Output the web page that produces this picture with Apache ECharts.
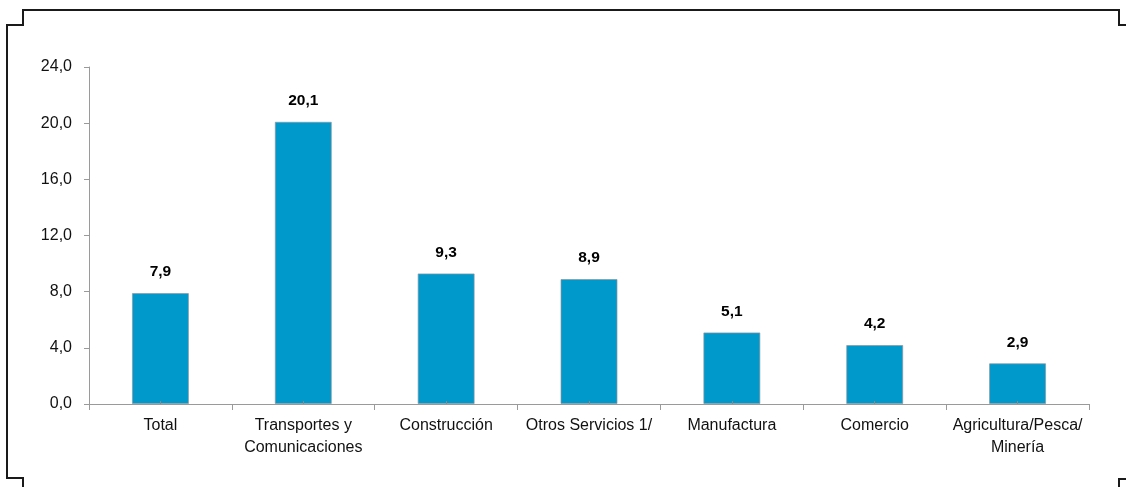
<!DOCTYPE html>
<html>
<head>
<meta charset="utf-8">
<script src="https://cdn.jsdelivr.net/npm/echarts@6/dist/echarts.min.js"></script>
<style>html,body{margin:0;padding:0;background:#fff}#c{width:1126px;height:487px}</style>
</head>
<body>
<div id="c"></div>
<script>
const categories = ['Total', 'Transportes y\nComunicaciones', 'Construcción', 'Otros Servicios 1/', 'Manufactura', 'Comercio', 'Agricultura/Pesca/\nMinería'];
const values = [7.9, 20.1, 9.3, 8.9, 5.1, 4.2, 2.9];
const yMin = 0, yMax = 24, yStep = 4;

const FONT = "'Liberation Sans', Arial, sans-serif";
const fmt = v => v.toFixed(1).replace('.', ',');

const chart = echarts.init(document.getElementById('c'), null, {renderer: 'canvas'});
const frameStyle = {stroke: '#1a1a1a', lineWidth: 2, fill: null};
chart.setOption({
  animation: false,
  grid: {left: 89, right: 37, top: 67, bottom: 83},
  graphic: [
    {type: 'polyline', shape: {points: [[1126, 25], [1119, 25], [1119, 10], [23, 10], [23, 25], [7, 25], [7, 478], [23, 478], [23, 487]]}, style: frameStyle, silent: true},
    {type: 'polyline', shape: {points: [[1119, 487], [1119, 479], [1126, 479]]}, style: frameStyle, silent: true}
  ],
  xAxis: [{
    type: 'category',
    data: categories,
    axisLine: {lineStyle: {color: '#9a9a9a', width: 1}},
    axisTick: {show: true, length: 6, lineStyle: {color: '#9a9a9a'}},
    axisLabel: {color: '#111', fontFamily: FONT, fontSize: 16, lineHeight: 22, margin: 11, interval: 0}
  }, {
    type: 'category',
    data: categories,
    position: 'bottom',
    z: 5,
    axisLine: {show: false},
    axisTick: {show: true, inside: true, length: 3, alignWithLabel: true, lineStyle: {color: '#8a8a8a'}},
    axisLabel: {show: false}
  }],
  yAxis: {
    type: 'value',
    min: yMin, max: yMax, interval: yStep,
    splitLine: {show: false},
    axisLine: {show: true, lineStyle: {color: '#9a9a9a', width: 1}},
    axisTick: {show: true, length: 5, lineStyle: {color: '#9a9a9a'}},
    axisLabel: {color: '#111', fontFamily: FONT, fontSize: 16, margin: 17, formatter: v => fmt(v)}
  },
  series: [{
    type: 'bar',
    data: values,
    barWidth: 57,
    itemStyle: {color: '#0099CC', borderColor: 'rgba(140,150,160,0.7)', borderWidth: 1},
    label: {
      show: true, position: 'top', distance: 13,
      color: '#000', fontFamily: FONT, fontWeight: 'bold', fontSize: 15.5,
      formatter: p => fmt(p.value)
    }
  }]
});
</script>
</body>
</html>
